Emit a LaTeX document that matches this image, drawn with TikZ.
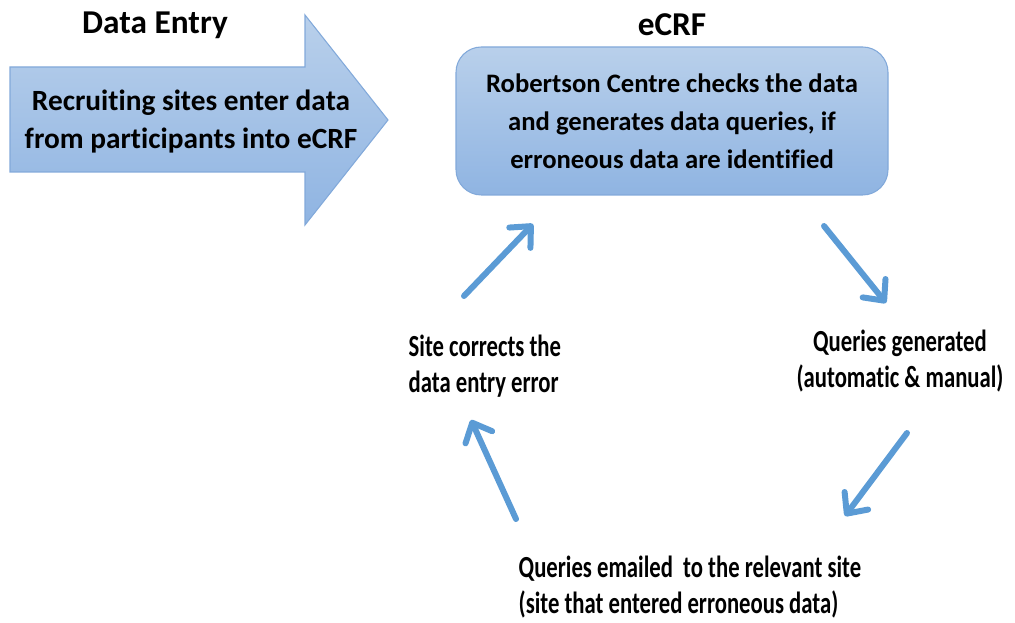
\documentclass[tikz,border=0pt]{standalone}
\usepackage{fontspec}
\setmainfont[Ligatures=NoCommon]{Carlito}
\newfontfamily\narrowfont[FakeStretch=0.74,Ligatures=NoCommon]{Carlito}
\usetikzlibrary{arrows.meta}

\definecolor{flowblue}{HTML}{5B9BD5}
\definecolor{boxtop}{HTML}{B9D0EB}
\definecolor{boxbot}{HTML}{8FB4E2}
\definecolor{boxline}{HTML}{82A9DA}

\tikzset{
  headline/.style={font=\fontsize{25}{30}\selectfont\bfseries},
  boxtext/.style={font=\fontsize{20}{28.5}\selectfont\bfseries, align=center},
  steptext/.style={font=\narrowfont\fontsize{23}{27}\selectfont\bfseries},
  flowarrow/.style={draw=flowblue, line width=4.5pt, line cap=round,
    -{Straight Barb[length=12pt, width=22pt, line width=4.5pt, round]}}
}

\begin{document}
\begin{tikzpicture}[x=0.75pt,y=0.75pt,yscale=-1,xscale=1]
\useasboundingbox (0,0) rectangle (1015,623);

%Big arrow: data entry
\path[top color=boxtop, bottom color=boxbot, draw=boxline, line width=0.8pt]
  (10,67) -- (305,67) -- (305,15) -- (388,120) -- (305,225) -- (305,172) -- (10,172) -- cycle ;

% Titles
\node[headline] (entrytitle) at (155,25) {Data Entry};
\node[headline] (ecrftitle) at (672,25) {eCRF};

% Text Node
\node[boxtext, font=\fontsize{22}{28.5}\selectfont\bfseries] (entrytext) at (191,122) {Recruiting sites enter data\\from participants into eCRF};

%Rounded box: checks
\node[boxtext, rounded corners=19pt, top color=boxtop, bottom color=boxbot,
  draw=boxline, line width=0.8pt, minimum width=324pt, minimum height=111pt]
  (check) at (672,121) {Robertson Centre checks the data\\and generates data queries, if\\erroneous data are identified};

% Steps of the loop
\node[steptext, align=center] (generated) at (900,361) {Queries generated\\(automatic \& manual)};
\node[steptext, align=left, anchor=west] (emailed) at (514,587) {Queries emailed \ to the relevant site\\(site that entered erroneous data)};
\node[steptext, align=left, anchor=west] (corrects) at (404,366) {Site corrects the\\data entry error};

% Arrow ends
\coordinate (a1s) at (824,226);
\coordinate (a1e) at (886,303);
\coordinate (a2s) at (907,433);
\coordinate (a2e) at (845,516);
\coordinate (a3s) at (516,519);
\coordinate (a3e) at (471,420);
\coordinate (a4s) at (464,296);
\coordinate (a4e) at (533,224);

\draw[flowarrow] (a1s) -- (a1e);
\draw[flowarrow] (a2s) -- (a2e);
\draw[flowarrow] (a3s) -- (a3e);
\draw[flowarrow] (a4s) -- (a4e);

\end{tikzpicture}
\end{document}
